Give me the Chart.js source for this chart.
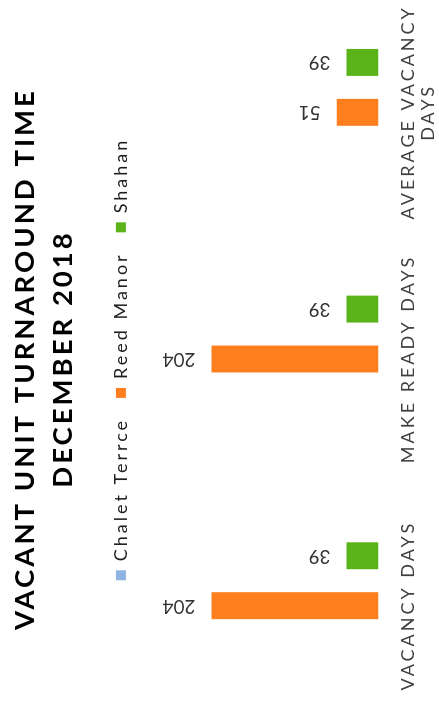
<!DOCTYPE html>
<html>
<head>
<meta charset="utf-8">
<script src="https://cdn.jsdelivr.net/npm/chart.js@4"></script>
<style>
    html, body { margin: 0; padding: 0; background: #fff; width: 439px; height: 705px; overflow: hidden; }
    /* the whole chart is drawn upright, then turned a quarter to the left */
    #wrap { position: absolute; left: 0; top: 0; width: 770px; height: 439px; transform-origin: 0 0; transform: translate(0px, 745px) rotate(-90deg); }
</style>
</head>
<body>
<div id="wrap"><canvas id="chart" width="770" height="439"></canvas></div>
<script>
const titleLines = ['VACANT UNIT TURNAROUND TIME', 'DECEMBER 2018'];
const categories = ['VACANCY DAYS', 'MAKE READY DAYS', ['AVERAGE VACANCY', 'DAYS']];
const seriesNames = ['Chalet Terrce', 'Reed Manor', 'Shahan'];
const chaletTerrce = [null, null, null];
const reedManor = [204, 204, 51];
const shahan = [39, 39, 39];
const seriesColors = ['#8db4e2', '#ff7f1e', '#5bb31a'];

const spacing = {
    id: 'spacing',
    beforeUpdate(chart) { chart.ctx.letterSpacing = '3px'; },
    beforeDraw(chart) { chart.ctx.letterSpacing = '3px'; }
};

const legendGap = {
    id: 'legendGap',
    beforeInit(chart) {
        const fit = chart.legend.fit;
        chart.legend.fit = function () {
            fit.call(this);
            this.height += 34;
        };
    }
};

const barLabels = {
    id: 'barLabels',
    afterDatasetsDraw(chart) {
        const ctx = chart.ctx;
        ctx.save();
        ctx.letterSpacing = '0px';
        ctx.font = '19px Lato';
        ctx.fillStyle = '#333';
        ctx.textAlign = 'left';
        ctx.textBaseline = 'middle';
        chart.data.datasets.forEach((ds, i) => {
            chart.getDatasetMeta(i).data.forEach((bar, j) => {
                if (ds.data[j] == null) return;
                ctx.save();
                ctx.translate(bar.x, bar.y - 16);
                ctx.rotate(-Math.PI / 2);
                ctx.fillText(String(ds.data[j]), 0, 0);
                ctx.restore();
            });
        });
        ctx.restore();
    }
};

createChart();

async function createChart() {
    try {
        await document.fonts.load('bold 28px Lato');
        await document.fonts.load('18px Lato');
    } catch (e) {}

    const values = [chaletTerrce, reedManor, shahan];
    const ctx = document.getElementById('chart').getContext('2d');
    new Chart(ctx, {
        type: 'bar',
        data: {
            labels: categories,
            datasets: seriesNames.map((name, i) => ({
                label: name,
                data: values[i],
                backgroundColor: seriesColors[i],
                categoryPercentage: 0.607,
                barPercentage: 0.54
            }))
        },
        options: {
            responsive: false,
            animation: false,
            layout: { padding: { left: 16, right: 14, top: 0, bottom: -19 } },
            plugins: {
                title: {
                    display: true,
                    text: titleLines,
                    color: '#000',
                    font: { family: 'Lato', size: 27.5, weight: 'bold', lineHeight: 1.38 },
                    padding: { top: 6, bottom: 10 }
                },
                legend: {
                    position: 'top',
                    labels: {
                        boxWidth: 10,
                        boxHeight: 10,
                        color: '#1e1e1e',
                        font: { family: 'Lato', size: 18 },
                        padding: 20
                    }
                },
                tooltip: { enabled: false }
            },
            scales: {
                x: {
                    grid: { display: false, drawTicks: false },
                    border: { display: false },
                    ticks: {
                        color: '#404040',
                        font: { family: 'Lato', size: 18, lineHeight: 1.1 },
                        padding: 20,
                        maxRotation: 0,
                        autoSkip: false
                    }
                },
                y: { display: false, min: 0, max: 250 }
            }
        },
        plugins: [spacing, legendGap, barLabels]
    });
}
</script>
</body>
</html>
